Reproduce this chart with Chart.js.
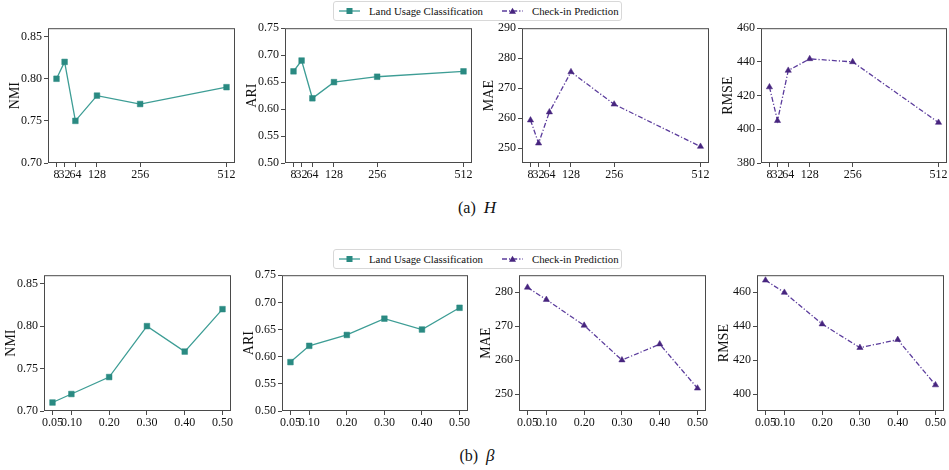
<!DOCTYPE html>
<html>
<head>
<meta charset="utf-8">
<script src="https://cdn.jsdelivr.net/npm/chart.js@4.4.0/dist/chart.umd.min.js"></script>
<style>
  body { margin: 0; background: #fff; }
  #page { position: relative; width: 949px; height: 470px; overflow: hidden; font-family: 'Liberation Serif', 'Times New Roman', serif; color: #111; }
  #page canvas { position: absolute; }
  .legend { position: absolute; box-sizing: border-box; border: 1px solid #d8d8d8; border-radius: 3px; background: #fff;
            font-size: 10.8px; display: flex; align-items: center; white-space: nowrap; padding-left: 5px; }
  .legend svg { margin-right: 9px; }
  .legend .gap { display: inline-block; width: 19px; }
  .caption { position: absolute; width: 200px; text-align: center; font-size: 16px; }
  .caption i { font-size: 17px; }
</style>
</head>
<body>
<div id="page"></div>
<script>
// x values
const hValues = [8, 32, 64, 128, 256, 512];
const betaValues = [0.05, 0.10, 0.20, 0.30, 0.40, 0.50];

// (a) H sweep
const hNMI = [0.80, 0.82, 0.75, 0.78, 0.77, 0.79];
const hARI = [0.67, 0.69, 0.62, 0.65, 0.66, 0.67];
const hMAE = [259.3, 251.6, 262.0, 275.4, 264.6, 250.5];
const hRMSE = [425.1, 405.1, 434.9, 441.8, 440.0, 404.0];

// (b) beta sweep
const betaNMI = [0.71, 0.72, 0.74, 0.80, 0.77, 0.82];
const betaARI = [0.59, 0.62, 0.64, 0.67, 0.65, 0.69];
const betaMAE = [281.4, 277.8, 270.2, 260.0, 264.7, 251.7];
const betaRMSE = [467.0, 459.8, 441.2, 427.3, 432.0, 405.3];

// tick labels
const nmiTicks = [0.70, 0.75, 0.80, 0.85];
const ariTicks = [0.50, 0.55, 0.60, 0.65, 0.70, 0.75];
const maeTicksH = [250, 260, 270, 280, 290];
const rmseTicksH = [380, 400, 420, 440, 460];
const maeTicksB = [250, 260, 270, 280];
const rmseTicksB = [400, 420, 440, 460];

const legendLabels = ['Land Usage Classification', 'Check-in Prediction'];
const captions = ['(a)&nbsp; <i>H</i>', '(b)&nbsp; <i>β</i>'];

const FONT = "'Liberation Serif', 'Times New Roman', serif";
const TEXT = '#111';
const TEAL = { line: '#3d9d95', point: '#2a8a82' };
const PURPLE = { line: '#5b3c9c', point: '#47257f' };

const fmt2 = v => v.toFixed(2);
const fmt0 = v => String(Math.round(v));

// box = [left, top, right, bottom] of the plot frame on the page
const panels = [
    { box: [48, 27, 235, 163], x: hValues, y: hNMI, yTicks: nmiTicks, yRange: [0.70, 0.86], title: 'NMI', fx: fmt0, fy: fmt2, c: TEAL },
    { box: [285, 27, 472, 163], x: hValues, y: hARI, yTicks: ariTicks, yRange: [0.50, 0.75], title: 'ARI', fx: fmt0, fy: fmt2, c: TEAL },
    { box: [522, 27, 709, 163], x: hValues, y: hMAE, yTicks: maeTicksH, yRange: [245, 290], title: 'MAE', fx: fmt0, fy: fmt0, c: PURPLE },
    { box: [761, 27, 947, 163], x: hValues, y: hRMSE, yTicks: rmseTicksH, yRange: [380, 460], title: 'RMSE', fx: fmt0, fy: fmt0, c: PURPLE },
    { box: [44, 274, 231, 411], x: betaValues, y: betaNMI, yTicks: nmiTicks, yRange: [0.70, 0.86], title: 'NMI', fx: fmt2, fy: fmt2, c: TEAL },
    { box: [282, 274, 468, 411], x: betaValues, y: betaARI, yTicks: ariTicks, yRange: [0.50, 0.75], title: 'ARI', fx: fmt2, fy: fmt2, c: TEAL },
    { box: [519, 274, 706, 411], x: betaValues, y: betaMAE, yTicks: maeTicksB, yRange: [245, 285], title: 'MAE', fx: fmt2, fy: fmt0, c: PURPLE },
    { box: [757, 274, 944, 411], x: betaValues, y: betaRMSE, yTicks: rmseTicksB, yRange: [390, 470], title: 'RMSE', fx: fmt2, fy: fmt0, c: PURPLE }
];

const PAD_L = 46, PAD_T = 8, PAD_R = 12, PAD_B = 24;

// draws the full frame around the plot area, like matplotlib spines
const framePlugin = {
    id: 'frame',
    afterDraw(chart) {
        const a = chart.chartArea, ctx = chart.ctx;
        ctx.save();
        ctx.strokeStyle = '#4a4a4a';
        ctx.lineWidth = 1;
        ctx.strokeRect(a.left + 0.5, a.top + 0.5, a.right - a.left - 1, a.bottom - a.top - 1);
        ctx.restore();
    }
};

const page = document.getElementById('page');

function makePanel(p) {
    const [l, t, r, b] = p.box;
    const canvas = document.createElement('canvas');
    canvas.width = (r - l) + PAD_L + PAD_R;
    canvas.height = (b - t) + PAD_T + PAD_B;
    canvas.style.left = (l - PAD_L) + 'px';
    canvas.style.top = (t - PAD_T) + 'px';
    page.appendChild(canvas);

    const xMin = Math.min(...p.x), xMax = Math.max(...p.x);
    const margin = (xMax - xMin) * 0.05;
    const isTeal = p.c === TEAL;

    new Chart(canvas, {
        type: 'line',
        data: {
            datasets: [{
                data: p.x.map((v, i) => ({ x: v, y: p.y[i] })),
                borderColor: p.c.line,
                borderWidth: 1.3,
                borderDash: isTeal ? [] : [5, 2, 1.2, 2],
                pointStyle: isTeal ? 'rect' : 'triangle',
                pointRadius: isTeal ? 4 : 3.6,
                pointBackgroundColor: p.c.point,
                pointBorderColor: p.c.point,
                pointBorderWidth: 0.5,
                tension: 0,
                clip: false
            }]
        },
        options: {
            responsive: false,
            animation: false,
            events: [],
            layout: { padding: { left: 0, top: PAD_T, right: PAD_R, bottom: 0 } },
            plugins: { legend: { display: false }, tooltip: { enabled: false } },
            scales: {
                x: {
                    type: 'linear',
                    min: xMin - margin,
                    max: xMax + margin,
                    afterBuildTicks: s => { s.ticks = p.x.map(v => ({ value: v })); },
                    afterFit: s => { s.height = PAD_B; },
                    border: { display: false },
                    grid: { drawOnChartArea: false, drawTicks: true, tickLength: 4, color: '#4a4a4a' },
                    ticks: { autoSkip: false, maxRotation: 0, padding: 1, color: TEXT,
                             font: { family: FONT, size: 12 }, callback: v => p.fx(v) }
                },
                y: {
                    min: p.yRange[0],
                    max: p.yRange[1],
                    afterBuildTicks: s => { s.ticks = p.yTicks.map(v => ({ value: v })); },
                    afterFit: s => { s.width = PAD_L; },
                    border: { display: false },
                    grid: { drawOnChartArea: false, drawTicks: true, tickLength: 4, color: '#4a4a4a' },
                    ticks: { padding: 2, color: TEXT, font: { family: FONT, size: 12 }, callback: v => p.fy(v) },
                    title: { display: true, text: p.title, color: TEXT, padding: { top: 5, bottom: 0 },
                             font: { family: FONT, size: 14 } }
                }
            }
        },
        plugins: [framePlugin]
    });
}

panels.forEach(makePanel);

// legend icons
function icon(c, teal) {
    const marker = teal
        ? `<rect x="7.5" y="2" width="6" height="6" fill="${c.point}"/>`
        : `<polygon points="10.5,1.8 14,7.8 7,7.8" fill="${c.point}"/>`;
    const dash = teal ? '' : 'stroke-dasharray="5 2 1.2 2"';
    return `<svg width="21" height="10"><line x1="0" y1="5" x2="21" y2="5" stroke="${c.line}" stroke-width="1.3" ${dash}/>${marker}</svg>`;
}

function makeLegend(left, top, height) {
    const d = document.createElement('div');
    d.className = 'legend';
    d.style.left = left + 'px';
    d.style.top = top + 'px';
    d.style.width = '289px';
    d.style.height = height + 'px';
    d.innerHTML = icon(TEAL, true) + '<span>' + legendLabels[0] + '</span><span class="gap"></span>'
        + icon(PURPLE, false) + '<span>' + legendLabels[1] + '</span>';
    page.appendChild(d);
}
makeLegend(333, 1, 20);
makeLegend(333, 249, 20);

function makeCaption(html, top) {
    const d = document.createElement('div');
    d.className = 'caption';
    d.style.left = '377px';
    d.style.top = top + 'px';
    d.innerHTML = html;
    page.appendChild(d);
}
makeCaption(captions[0], 198);
makeCaption(captions[1], 446);
</script>
</body>
</html>
